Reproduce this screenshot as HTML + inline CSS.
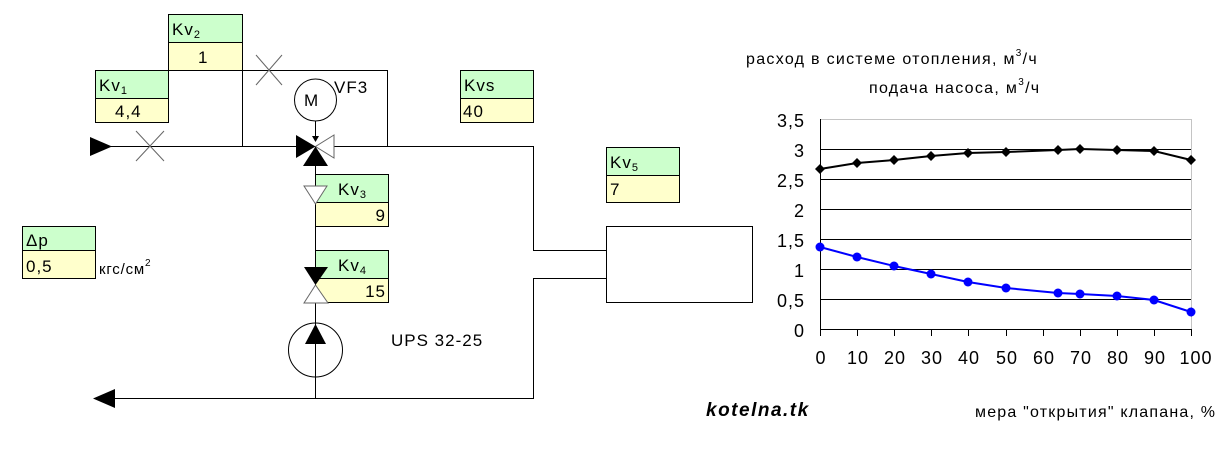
<!DOCTYPE html>
<html><head><meta charset="utf-8"><style>
body{margin:0;background:#fff;}
svg text{font-family:"Liberation Sans",sans-serif;}
</style></head><body>
<svg width="1225" height="445" viewBox="0 0 1225 445" xmlns="http://www.w3.org/2000/svg">
<g stroke="#000" stroke-width="1" fill="none">
<path d="M110 146.5H533.5V250.5H606"/>
<path d="M242.5 146V70.5H387.5V146"/>
<path d="M606 278.5H533.5V398.5H112"/>
<path d="M315.5 146V398"/>
<rect x="606.5" y="226.5" width="146" height="76"/>
<circle cx="315.5" cy="100" r="21"/>
<circle cx="315.5" cy="350" r="27"/>
<path d="M315.5 121V140"/>
</g>
<g stroke="#666" stroke-width="1">
<path d="M136 131L164 161M164 131L136 161"/>
<path d="M256 55L282 85M282 55L256 85"/>
</g>
<polygon points="90,137 112,146.5 90,156" fill="#000"/>
<polygon points="115,389 93,398.5 115,408" fill="#000"/>
<polygon points="312,136 319,136 315.5,142" fill="#000"/>
<polygon points="296,135 296,158 315.5,146.5" fill="#000"/>
<polygon points="334,135 334,158 315.5,146.5" fill="#fff" stroke="#666"/>
<polygon points="303,166 328,166 315.5,146.5" fill="#000"/>
<g stroke="#000" stroke-width="1">
<rect x="168.5" y="14.5" width="74" height="28" fill="#ccffcc"/><rect x="168.5" y="42.5" width="74" height="28" fill="#ffffcc"/>
<rect x="95.5" y="70.5" width="73" height="28" fill="#ccffcc"/><rect x="95.5" y="98.5" width="73" height="24" fill="#ffffcc"/>
<rect x="460.5" y="70.5" width="73" height="28" fill="#ccffcc"/><rect x="460.5" y="98.5" width="73" height="24" fill="#ffffcc"/>
<rect x="606.5" y="147.5" width="73" height="28" fill="#ccffcc"/><rect x="606.5" y="175.5" width="73" height="27" fill="#ffffcc"/>
<rect x="315.5" y="174.5" width="73" height="28" fill="#ccffcc"/><rect x="315.5" y="202.5" width="73" height="24" fill="#ffffcc"/>
<rect x="315.5" y="250.5" width="73" height="28" fill="#ccffcc"/><rect x="315.5" y="278.5" width="73" height="24" fill="#ffffcc"/>
<rect x="22.5" y="226.5" width="73" height="24" fill="#ccffcc"/><rect x="22.5" y="250.5" width="73" height="28" fill="#ffffcc"/>
</g>
<polygon points="304,186 327,186 315.5,204" fill="#fff" stroke="#666"/>
<polygon points="304,267 328,267 315.5,285" fill="#000"/>
<polygon points="304,303 328,303 315.5,285" fill="#fff" stroke="#666"/>
<polygon points="315.5,324 305,344 326,344" fill="#000"/>
<g font-size="17" fill="#000" letter-spacing="1">
<text x="172" y="35">Kv<tspan font-size="11" dy="3">2</tspan></text>
<text x="198" y="63">1</text>
<text x="99" y="91">Kv<tspan font-size="11" dy="3">1</tspan></text>
<text x="115" y="117">4,4</text>
<text x="464" y="91">Kvs</text>
<text x="463" y="117">40</text>
<text x="610" y="168">Kv<tspan font-size="11" dy="3">5</tspan></text>
<text x="610" y="195">7</text>
<text x="338" y="195">Kv<tspan font-size="11" dy="3">3</tspan></text>
<text x="386" y="221" text-anchor="end">9</text>
<text x="338" y="271">Kv<tspan font-size="11" dy="3">4</tspan></text>
<text x="386" y="297" text-anchor="end">15</text>
<text x="26" y="246">Δp</text>
<text x="26" y="272">0,5</text>
<text x="304" y="106">M</text>
<text x="334" y="93">VF3</text>
<text x="391" y="346">UPS 32-25</text>
</g>
<text x="99" y="274" font-size="15" letter-spacing="0.8">кгс/см<tspan font-size="10" dy="-8">2</tspan></text>
<text x="706" y="416" font-size="19" font-weight="bold" font-style="italic" letter-spacing="1.5">kotelna.tk</text>
<text x="746" y="64" font-size="16" letter-spacing="1.3">расход в системе отопления, м<tspan font-size="10" dy="-8">3</tspan><tspan dy="8">/ч</tspan></text>
<text x="869" y="93" font-size="16" letter-spacing="1.3">подача насоса, м<tspan font-size="10" dy="-8">3</tspan><tspan dy="8">/ч</tspan></text>
<rect x="820.5" y="119.5" width="371" height="210" fill="none" stroke="#888" stroke-dasharray="1,1"/>
<g stroke="#000" stroke-width="1">
<path d="M820 149.5H1191M820 179.5H1191M820 209.5H1191M820 239.5H1191M820 269.5H1191M820 299.5H1191"/>
<path d="M820.5 119V336M820 329.5H1191"/>
<path d="M857.5 329v7M894.5 329v7M931.5 329v7M968.5 329v7M1006.5 329v7M1043.5 329v7M1080.5 329v7M1117.5 329v7M1154.5 329v7M1191.5 329v7"/>
</g>
<g font-size="18" text-anchor="end" letter-spacing="1">
<text x="805" y="127">3,5</text><text x="805" y="157">3</text><text x="805" y="187">2,5</text><text x="805" y="217">2</text><text x="805" y="247">1,5</text><text x="805" y="277">1</text><text x="805" y="307">0,5</text><text x="805" y="337">0</text>
</g>
<g font-size="18" text-anchor="middle" letter-spacing="1">
<text x="821" y="364">0</text><text x="858" y="364">10</text><text x="895" y="364">20</text><text x="932" y="364">30</text><text x="969" y="364">40</text><text x="1007" y="364">50</text><text x="1044" y="364">60</text><text x="1081" y="364">70</text><text x="1118" y="364">80</text><text x="1155" y="364">90</text><text x="1196" y="364">100</text>
</g>
<text x="975" y="417" font-size="16" letter-spacing="1.2">мера "открытия" клапана, %</text>
<polyline fill="none" stroke="#000" stroke-width="2" points="820,169 857,163 894,160 931,156 968,153 1006,152 1058,150 1080,149 1117,150 1154,151 1191,160"/>
<g fill="#000">
<polygon points="820,164 825,169 820,174 815,169"/><polygon points="857,158 862,163 857,168 852,163"/><polygon points="894,155 899,160 894,165 889,160"/><polygon points="931,151 936,156 931,161 926,156"/><polygon points="968,148 973,153 968,158 963,153"/><polygon points="1006,147 1011,152 1006,157 1001,152"/><polygon points="1058,145 1063,150 1058,155 1053,150"/><polygon points="1080,144 1085,149 1080,154 1075,149"/><polygon points="1117,145 1122,150 1117,155 1112,150"/><polygon points="1154,146 1159,151 1154,156 1149,151"/><polygon points="1191,155 1196,160 1191,165 1186,160"/>
</g>
<polyline fill="none" stroke="#0000ff" stroke-width="2" points="820,247 857,257 894,266 931,274 968,282 1006,288 1058,293 1080,294 1117,296 1154,300 1191,312"/>
<g fill="#0000ff">
<circle cx="820" cy="247" r="4.5"/><circle cx="857" cy="257" r="4.5"/><circle cx="894" cy="266" r="4.5"/><circle cx="931" cy="274" r="4.5"/><circle cx="968" cy="282" r="4.5"/><circle cx="1006" cy="288" r="4.5"/><circle cx="1058" cy="293" r="4.5"/><circle cx="1080" cy="294" r="4.5"/><circle cx="1117" cy="296" r="4.5"/><circle cx="1154" cy="300" r="4.5"/><circle cx="1191" cy="312" r="4.5"/>
</g>
</svg>
</body></html>
